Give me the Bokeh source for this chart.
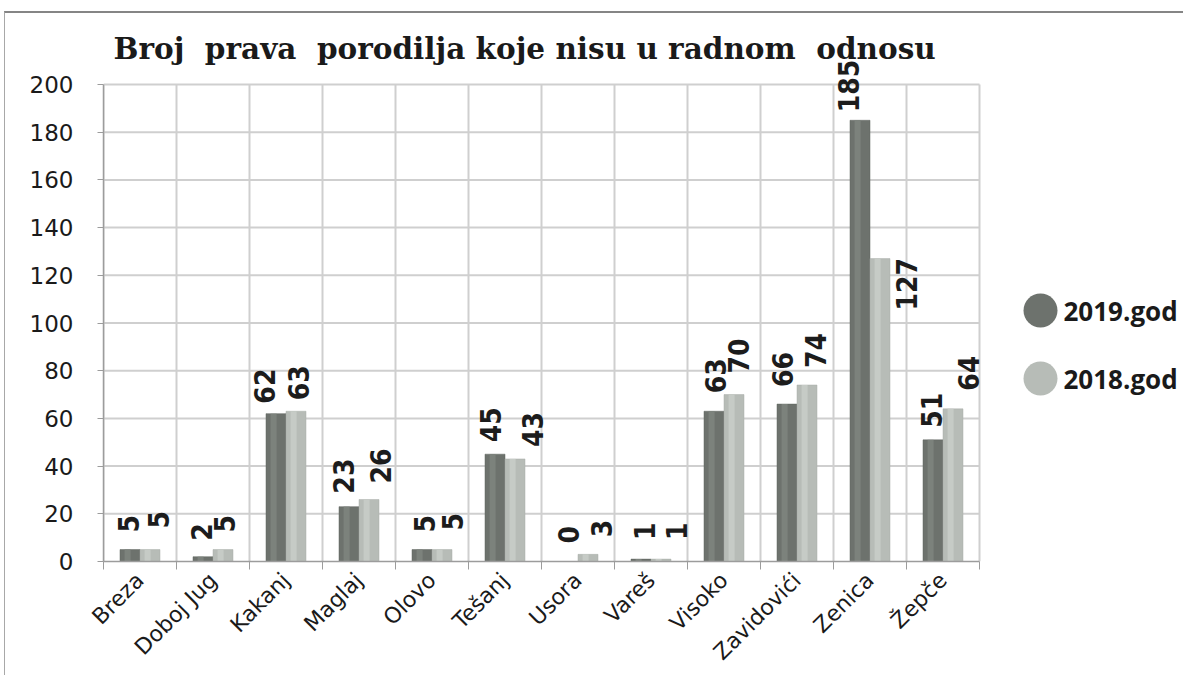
import math
from bokeh.plotting import figure
from bokeh.models import Range1d, FixedTicker, CustomJSTickFormatter
from bokeh.core.properties import value
from bokeh.embed import file_html
from bokeh.resources import INLINE

# ---------------- data ----------------
title_text = "Broj\u00a0 prava\u00a0 porodilja koje nisu u radnom\u00a0 odnosu"
categories = ["Breza", "Doboj Jug", "Kakanj", "Maglaj", "Olovo", "Tešanj",
              "Usora", "Vareš", "Visoko", "Zavidovići", "Zenica", "Žepče"]
series_names = ["2019.god", "2018.god"]
values_2019 = [5, 2, 62, 23, 5, 45, 0, 1, 63, 66, 185, 51]
values_2018 = [5, 5, 63, 26, 5, 43, 3, 1, 70, 74, 127, 64]
y_ticks = [0, 20, 40, 60, 80, 100, 120, 140, 160, 180, 200]

# ---------------- styles / layout ----------------
PX_CAT = 73.0        # pixels per category
PX_UNIT = 2.385      # pixels per value unit
FRAME_W = 1079
FRAME_H = 547
BAR_W = 20.0 / PX_CAT
C_DARK = "#6d726d"
C_LIGHT = "#b7bcb7"
C_GRID = "#cfcfcf"
C_AXIS = "#9c9c9c"

# per-label pixel nudges (label placement styling)
lbl_dx_2019 = [-2, -2, -12, -6, 2, -5, 0, 3, 1, -5, -12, -2]
lbl_dx_2018 = [8, 1, 2, 11, 10, 17, 13, 15, 4, 8, 26, 15]
lbl_gap_2019 = [17, 16, 10, 13, 17, 12, 18, 19, 18, 17, 8, 12]
lbl_gap_2018 = [21, 17, 11, 16, 19, 12, 17, 19, 21, 17, -52, 18]

n = len(categories)
centers = [i + 0.5 for i in range(n)]
x19 = [c - BAR_W / 2 for c in centers]
x18 = [c + BAR_W / 2 for c in centers]

p = figure(width=1179, height=664,
           x_range=Range1d(0, FRAME_W / PX_CAT),
           y_range=Range1d(0, FRAME_H / PX_UNIT),
           output_backend="svg", toolbar_location=None,
           min_border_left=98, min_border_right=2,
           min_border_top=1, min_border_bottom=116,
           styles={"margin-top": "11px", "margin-left": "4px",
                   "border-top": "2px solid #858585",
                   "border-left": "1px solid #a8a8a8"})
p.outline_line_color = None
p.xgrid.visible = False
p.ygrid.visible = False
p.background_fill_color = "white"

y_max = y_ticks[-1]
# grid lines
p.segment(x0=list(range(n + 1)), y0=0, x1=list(range(n + 1)), y1=y_max,
          line_color=C_GRID, line_width=2)
p.segment(x0=0, y0=y_ticks[1:], x1=n, y1=y_ticks[1:],
          line_color=C_GRID, line_width=2)

# bars
p.vbar(x=x19, top=values_2019, width=BAR_W, bottom=0,
       fill_color=C_DARK, line_color="#5f645f", line_width=0.5)
p.vbar(x=x18, top=values_2018, width=BAR_W, bottom=0,
       fill_color=C_LIGHT, line_color="#a9aea9", line_width=0.5)
# subtle cylinder highlight
p.vbar(x=[x - BAR_W * 0.12 for x in x19], top=values_2019, width=BAR_W * 0.3,
       bottom=0, fill_color="#7c827c", line_color=None)
p.vbar(x=[x - BAR_W * 0.12 for x in x18], top=values_2018, width=BAR_W * 0.3,
       bottom=0, fill_color="#c6cbc6", line_color=None)

# value labels
lbl_font = value("'Liberation Sans Narrow', 'DejaVu Sans Condensed', sans-serif")
p.text(x=x19, y=values_2019, text=[str(v) for v in values_2019],
       x_offset=lbl_dx_2019, y_offset=[-g for g in lbl_gap_2019],
       angle=math.pi / 2, text_align="left", text_baseline="middle",
       text_font=lbl_font, text_font_size="28px", text_font_style="bold",
       text_color="#1c1c1c")
p.text(x=x18, y=values_2018, text=[str(v) for v in values_2018],
       x_offset=lbl_dx_2018, y_offset=[-g for g in lbl_gap_2018],
       angle=math.pi / 2, text_align="left", text_baseline="middle",
       text_font=lbl_font, text_font_size="28px", text_font_style="bold",
       text_color="#1c1c1c")

# title
p.text(x=[10 / PX_CAT], y=[(561 - 48) / PX_UNIT], text=[title_text],
       text_align="left", text_baseline="alphabetic",
       text_font=value("DejaVu Serif"), text_font_size="29.5px",
       text_font_style="bold", text_color="#1a1a1a")

# legend
leg_x = (1040 - 103) / PX_CAT
leg_y = [(561 - 310) / PX_UNIT, (561 - 378) / PX_UNIT]
p.scatter(x=[leg_x, leg_x], y=leg_y, size=34, marker="circle",
          fill_color=[C_DARK, C_LIGHT], line_color=None)
p.text(x=[(1063 - 103) / PX_CAT] * 2, y=leg_y, text=series_names,
       text_align="left", text_baseline="middle",
       text_font=value("Open Sans"), text_font_size="26px",
       text_font_style="bold", text_color="#1a1a1a")

# y axis
yax = p.yaxis[0]
yax.ticker = FixedTicker(ticks=y_ticks)
yax.bounds = (0, y_max)
yax.axis_line_color = C_AXIS
yax.axis_line_width = 1.5
yax.major_tick_out = 6
yax.major_tick_in = 0
yax.major_tick_line_color = C_AXIS
yax.minor_tick_out = 0
yax.minor_tick_in = 0
yax.major_label_standoff = 24
yax.major_label_text_font = "DejaVu Sans"
yax.major_label_text_font_size = "23px"
yax.major_label_text_color = "#1a1a1a"

# x axis
xax = p.xaxis[0]
xax.ticker = FixedTicker(ticks=centers, minor_ticks=list(range(n + 1)))
xax.formatter = CustomJSTickFormatter(args=dict(cats=categories),
                                      code="return cats[Math.floor(tick)] || '';")
xax.bounds = (0, n)
xax.axis_line_color = C_AXIS
xax.axis_line_width = 1.5
xax.major_tick_out = 0
xax.major_tick_in = 0
xax.minor_tick_out = 8
xax.minor_tick_in = 0
xax.minor_tick_line_color = C_AXIS
xax.major_label_orientation = math.pi / 4
xax.major_label_standoff = 7
xax.major_label_text_font = "DejaVu Sans"
xax.major_label_text_font_size = "22px"
xax.major_label_text_color = "#1a1a1a"

open("out.html", "w").write(file_html(p, INLINE))
